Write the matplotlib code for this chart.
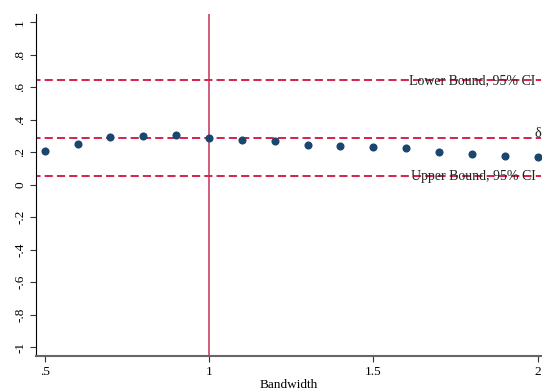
import matplotlib.pyplot as plt
import numpy as np

plt.rcParams['font.family'] = ['Liberation Serif', 'DejaVu Serif']

bandwidth = [0.5, 0.6, 0.7, 0.8, 0.9, 1.0, 1.1, 1.2, 1.3, 1.4, 1.5, 1.6, 1.7, 1.8, 1.9, 2.0]
estimate = [0.208, 0.249, 0.294, 0.300, 0.305, 0.288, 0.276, 0.268, 0.247, 0.235,
            0.229, 0.225, 0.200, 0.188, 0.177, 0.169]
lower_ci = 0.643
delta = 0.286
upper_ci = 0.053
y_ticks = [-1, -0.8, -0.6, -0.4, -0.2, 0, 0.2, 0.4, 0.6, 0.8, 1]
y_labels = ['-1', '-.8', '-.6', '-.4', '-.2', '0', '.2', '.4', '.6', '.8', '1']
x_ticks = [0.5, 1, 1.5, 2]
x_labels = ['.5', '1', '1.5', '2']

line_col = '#d0103f'

fig = plt.figure(figsize=(5.42, 3.92), dpi=100)
ax = fig.add_axes([0.066, 0.092, 0.932, 0.872])

for yv in [lower_ci, delta, upper_ci]:
    ax.axhline(yv, color=line_col, lw=1.3, ls=(2, (4.5, 2.3)), zorder=1)
ax.axvline(1.0, color='#c8305a', lw=1.1, zorder=1)
ax.scatter(bandwidth, estimate, s=34, color='#1a476f', zorder=3, linewidths=0)

ax.text(1.993, lower_ci, 'Lower Bound, 95% CI', ha='right', va='center',
        fontsize=10, color='#222222', zorder=2)
ax.text(1.993, upper_ci, 'Upper Bound, 95% CI', ha='right', va='center',
        fontsize=10, color='#222222', zorder=2)
ax.text(2.0, delta + 0.03, 'δ', ha='center', va='center', fontsize=10.5, color='#222222')

ax.set_xlim(0.4726, 2.01)
ax.set_ylim(-1.055, 1.05)
ax.set_yticks(y_ticks)
ax.set_yticklabels(y_labels, rotation=90, va='center')
ax.set_xticks(x_ticks)
ax.set_xticklabels(x_labels)
ax.tick_params(labelsize=9.5, length=4, width=0.8, color='#333333', pad=3)
ax.set_xlabel('Bandwidth', fontsize=9.5, labelpad=1)

ax.spines['top'].set_visible(False)
ax.spines['right'].set_visible(False)
ax.spines['left'].set_color('black')
ax.spines['bottom'].set_color('#666666')
ax.spines['bottom'].set_linewidth(1.5)

fig.savefig('out.png', dpi=100)
